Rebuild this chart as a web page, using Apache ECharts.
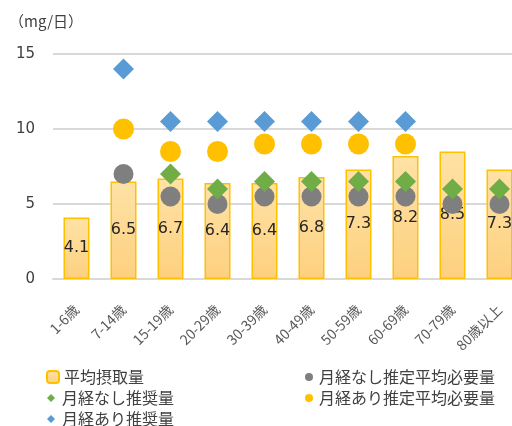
<!DOCTYPE html>
<html>
<head>
<meta charset="utf-8">
<script src="https://cdn.jsdelivr.net/npm/echarts@6/dist/echarts.min.js"></script>
<style>
  html, body { margin: 0; padding: 0; background: #fff; overflow: hidden; }
  /* 右端のカテゴリは画面外まではみ出しているので少し広めに描く */
  #chart { width: 523px; height: 426px; }
</style>
</head>
<body>
<div id="chart"></div>
<script>
  // 年齢区分
  const categories = ['1-6歳', '7-14歳', '15-19歳', '20-29歳', '30-39歳', '40-49歳', '50-59歳', '60-69歳', '70-79歳', '80歳以上'];
  // 平均摂取量
  const intake = [4.1, 6.5, 6.7, 6.4, 6.4, 6.8, 7.3, 8.2, 8.5, 7.3];
  // 月経なし推定平均必要量
  const earNoMenses = [null, 7.0, 5.5, 5.0, 5.5, 5.5, 5.5, 5.5, 5.0, 5.0];
  // 月経なし推奨量
  const rdaNoMenses = [null, null, 7.0, 6.0, 6.5, 6.5, 6.5, 6.5, 6.0, 6.0];
  // 月経あり推定平均必要量
  const earMenses = [null, 10.0, 8.5, 8.5, 9.0, 9.0, 9.0, 9.0, null, null];
  // 月経あり推奨量
  const rdaMenses = [null, 14.0, 10.5, 10.5, 10.5, 10.5, 10.5, 10.5, null, null];
  const yTicks = [0, 5, 10, 15];

  const cjk = '"Noto Sans CJK JP", "DejaVu Sans", sans-serif';
  const num = '"DejaVu Sans", "Noto Sans CJK JP", sans-serif';
  const textColor = '#404040';

  const chart = echarts.init(document.getElementById('chart'));

  // 凡例は項目ごとに置く（アイコンの大きさが違うため）
  function legendAt(name, left, textX, top, size, icon) {
    return {
      data: [icon ? { name: name, icon: icon } : name],
      left: left,
      top: top,
      padding: 0,
      orient: 'vertical',
      itemWidth: size,
      itemHeight: size,
      selectedMode: false,
      textStyle: {
        fontFamily: cjk, fontSize: 16, color: textColor,
        padding: [0, 0, 0, Math.max(0, textX - left - size - 5)]
      }
    };
  }

  const option = {
    animation: false,
    title: {
      text: '（mg/日）',
      left: 4,
      top: 9,
      textStyle: { fontFamily: cjk, fontSize: 15, fontWeight: 'normal', color: textColor }
    },
    legend: [
      legendAt('平均摂取量', 46, 62, 369, 12),
      legendAt('月経なし推奨量', 47, 62, 390, 8, 'diamond'),
      legendAt('月経あり推奨量', 47, 62, 411, 8, 'diamond'),
      legendAt('月経なし推定平均必要量', 305, 319, 369, 8, 'circle'),
      legendAt('月経あり推定平均必要量', 305, 319, 390, 8, 'circle')
    ],
    grid: { left: 53, top: 54, right: 0, height: 225 },
    xAxis: {
      type: 'category',
      data: categories,
      axisLine: { lineStyle: { color: '#D9D9D9', width: 2 } },
      axisTick: { show: false },
      axisLabel: {
        rotate: 45,
        interval: 0,
        margin: 28,
        fontFamily: cjk,
        fontSize: 14,
        color: '#595959'
      }
    },
    yAxis: {
      type: 'value',
      min: yTicks[0],
      max: yTicks[yTicks.length - 1],
      interval: 5,
      axisLine: { show: false },
      axisTick: { show: false },
      axisLabel: { margin: 18, fontFamily: num, fontSize: 15, color: textColor },
      splitLine: { lineStyle: { color: '#D9D9D9', width: 2 } }
    },
    series: [
      {
        name: '平均摂取量',
        type: 'bar',
        data: intake,
        barWidth: 26,
        itemStyle: {
          color: {
            type: 'linear', x: 0, y: 0, x2: 0, y2: 1,
            colorStops: [
              { offset: 0, color: '#FFE2A6' },
              { offset: 1, color: '#FDD07E' }
            ]
          },
          borderColor: '#FFC000',
          borderWidth: 1.5
        },
        label: {
          show: true,
          position: 'inside',
          fontFamily: num,
          fontSize: 16,
          color: '#262626'
        }
      },
      {
        name: '月経なし推定平均必要量',
        type: 'scatter',
        data: earNoMenses,
        symbol: 'circle',
        symbolSize: 20,
        itemStyle: { color: '#7F7F7F', opacity: 1 }
      },
      {
        name: '月経なし推奨量',
        type: 'scatter',
        data: rdaNoMenses,
        symbol: 'diamond',
        symbolSize: 21,
        itemStyle: { color: '#70AD47', opacity: 1 }
      },
      {
        name: '月経あり推定平均必要量',
        type: 'scatter',
        data: earMenses,
        symbol: 'circle',
        symbolSize: 21,
        itemStyle: { color: '#FFC000', opacity: 1 }
      },
      {
        name: '月経あり推奨量',
        type: 'scatter',
        data: rdaMenses,
        symbol: 'diamond',
        symbolSize: 21,
        itemStyle: { color: '#5B9BD5', opacity: 1 }
      }
    ]
  };

  chart.setOption(option);
</script>
</body>
</html>
